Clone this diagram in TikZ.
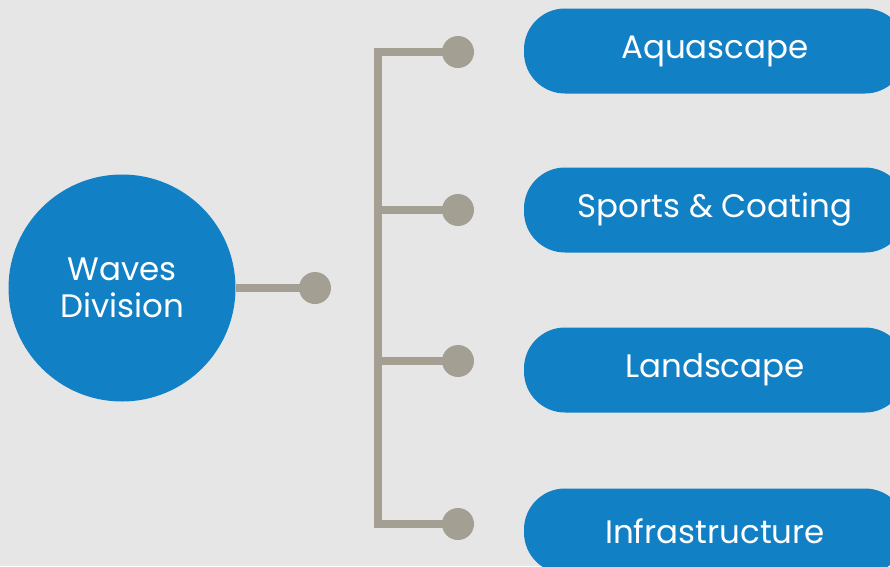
\documentclass[tikz,border=0pt]{standalone}
\usepackage{fontspec}
\setmainfont{Poppins}
\usetikzlibrary{positioning,calc}
\definecolor{wblue}{HTML}{1180C4}
\definecolor{wgray}{HTML}{A39F93}
\definecolor{wback}{HTML}{E6E6E6}
\tikzset{
	bubble/.style={circle,fill=wblue,minimum size=227pt,inner sep=0pt,text=white,align=center,font=\fontsize{32.5}{37}\selectfont},
	pill/.style={rectangle,rounded corners=41pt,fill=wblue,minimum width=382pt,minimum height=85pt,inner sep=0pt,text=white,font=\fontsize{32.5}{38}\selectfont},
	knob/.style={circle,fill=wgray,minimum size=32pt,inner sep=0pt},
	branch/.style={draw=wgray,line width=8pt,line join=miter}
}
\begin{document}
\begin{tikzpicture}[x=1pt,y=-1pt]
		\fill[wback] (0,0) rectangle (890,566);
		\useasboundingbox (0,0) rectangle (890,566);
		\node[bubble] (waves) at (122,288) {Waves\\Division};
		\coordinate (j1) at (378,52);
		\coordinate (j2) at (378,210);
		\coordinate (j3) at (378,361);
		\coordinate (j4) at (378,524);
		\draw[branch] (waves.east) -- (315,288);
		\draw[branch] (458,52) -- (j1) -- (j4) -- (458,524);
		\draw[branch] (j2) -- (458,210) (j3) -- (458,361);
		\node[knob] (hub) at (315,288) {};
		\foreach \i/\y/\t/\p in {1/52/Aquascape/51, 2/210/Sports \& Coating/210, 3/361/Landscape/370, 4/524/Infrastructure/531}{
			\node[knob] (k\i) at (458,\y) {};
			\node[pill] (p\i) at (715,\p) {\t};
		}
\end{tikzpicture}
\end{document}
